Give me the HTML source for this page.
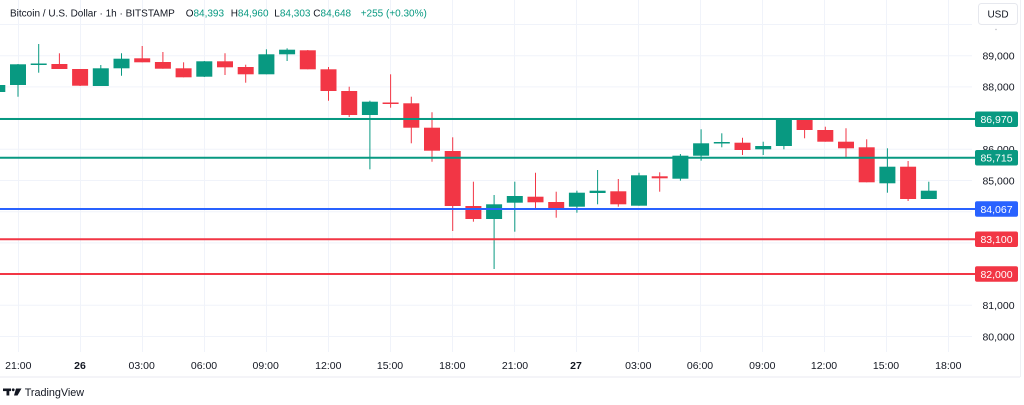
<!DOCTYPE html>
<html>
<head>
<meta charset="utf-8">
<style>
html,body{margin:0;padding:0;background:#fff;}
svg{display:block;}
text{font-family:"Liberation Sans",Arial,sans-serif;}
</style>
</head>
<body>
<svg width="1024" height="405" viewBox="0 0 1024 405" xmlns="http://www.w3.org/2000/svg">
<rect x="0" y="0" width="1024" height="405" fill="#ffffff"/>

<!-- horizontal grid -->
<g stroke="#f0f3fa" stroke-width="1">
<line x1="0" y1="24.5" x2="972" y2="24.5"/>
<line x1="0" y1="55.7" x2="972" y2="55.7"/>
<line x1="0" y1="86.9" x2="972" y2="86.9"/>
<line x1="0" y1="118.1" x2="972" y2="118.1"/>
<line x1="0" y1="149.3" x2="972" y2="149.3"/>
<line x1="0" y1="180.5" x2="972" y2="180.5"/>
<line x1="0" y1="211.7" x2="972" y2="211.7"/>
<line x1="0" y1="242.9" x2="972" y2="242.9"/>
<line x1="0" y1="274.1" x2="972" y2="274.1"/>
<line x1="0" y1="305.3" x2="972" y2="305.3"/>
<line x1="0" y1="336.5" x2="972" y2="336.5"/>
</g>
<!-- vertical grid -->
<g stroke="#f0f3fa" stroke-width="1">
<line x1="18.5" y1="0" x2="18.5" y2="352"/>
<line x1="80.5" y1="0" x2="80.5" y2="352"/>
<line x1="142.5" y1="0" x2="142.5" y2="352"/>
<line x1="204.5" y1="0" x2="204.5" y2="352"/>
<line x1="266.5" y1="0" x2="266.5" y2="352"/>
<line x1="328.5" y1="0" x2="328.5" y2="352"/>
<line x1="390.5" y1="0" x2="390.5" y2="352"/>
<line x1="452.5" y1="0" x2="452.5" y2="352"/>
<line x1="514.5" y1="0" x2="514.5" y2="352"/>
<line x1="576.5" y1="0" x2="576.5" y2="352"/>
<line x1="638.5" y1="0" x2="638.5" y2="352"/>
<line x1="700.5" y1="0" x2="700.5" y2="352"/>
<line x1="762.5" y1="0" x2="762.5" y2="352"/>
<line x1="824.5" y1="0" x2="824.5" y2="352"/>
<line x1="886.5" y1="0" x2="886.5" y2="352"/>
<line x1="948.5" y1="0" x2="948.5" y2="352"/>
</g>

<!-- borders -->
<line x1="0" y1="377" x2="1020" y2="377" stroke="#e8eaf0" stroke-width="1"/>
<line x1="1020.5" y1="0" x2="1020.5" y2="377" stroke="#eef0f4" stroke-width="1"/>

<!-- candles -->
<g>
<!-- i0 -->
<line x1="-2.7" y1="84" x2="-2.7" y2="93" stroke="#089981"/><rect x="-10.7" y="85" width="16" height="7" fill="#089981"/>
<!-- i1 -->
<line x1="18" y1="64" x2="18" y2="96.7" stroke="#089981"/><rect x="10" y="64.3" width="16" height="20.7" fill="#089981"/>
<!-- i2 -->
<line x1="38.7" y1="44" x2="38.7" y2="72.7" stroke="#089981"/><rect x="30.7" y="63.5" width="16" height="1.5" fill="#089981"/>
<!-- i3 -->
<line x1="59.4" y1="53.3" x2="59.4" y2="69" stroke="#F23645"/><rect x="51.4" y="64" width="16" height="5" fill="#F23645"/>
<!-- i4 -->
<line x1="80.1" y1="69" x2="80.1" y2="86" stroke="#F23645"/><rect x="72.1" y="69" width="16" height="16.7" fill="#F23645"/>
<!-- i5 -->
<line x1="100.8" y1="65" x2="100.8" y2="86" stroke="#089981"/><rect x="92.8" y="68.3" width="16" height="17.7" fill="#089981"/>
<!-- i6 -->
<line x1="121.5" y1="53.3" x2="121.5" y2="75.7" stroke="#089981"/><rect x="113.5" y="58.7" width="16" height="9.6" fill="#089981"/>
<!-- i7 -->
<line x1="142.2" y1="46" x2="142.2" y2="62.3" stroke="#F23645"/><rect x="134.2" y="58.3" width="16" height="4" fill="#F23645"/>
<!-- i8 -->
<line x1="162.9" y1="52" x2="162.9" y2="68.7" stroke="#F23645"/><rect x="154.9" y="62" width="16" height="6.7" fill="#F23645"/>
<!-- i9 -->
<line x1="183.6" y1="62.3" x2="183.6" y2="77.3" stroke="#F23645"/><rect x="175.6" y="68.3" width="16" height="9" fill="#F23645"/>
<!-- i10 -->
<line x1="204.3" y1="61" x2="204.3" y2="77" stroke="#089981"/><rect x="196.3" y="61.3" width="16" height="15.4" fill="#089981"/>
<!-- i11 -->
<line x1="225" y1="53.3" x2="225" y2="75" stroke="#F23645"/><rect x="217" y="61.3" width="16" height="6" fill="#F23645"/>
<!-- i12 -->
<line x1="245.7" y1="64.7" x2="245.7" y2="82.7" stroke="#F23645"/><rect x="237.7" y="67" width="16" height="7.3" fill="#F23645"/>
<!-- i13 -->
<line x1="266.4" y1="49.3" x2="266.4" y2="74.3" stroke="#089981"/><rect x="258.4" y="54.3" width="16" height="20" fill="#089981"/>
<!-- i14 -->
<line x1="287.1" y1="48.3" x2="287.1" y2="61" stroke="#089981"/><rect x="279.1" y="49.7" width="16" height="4.6" fill="#089981"/>
<!-- i15 -->
<line x1="307.8" y1="50" x2="307.8" y2="69.3" stroke="#F23645"/><rect x="299.8" y="50.3" width="16" height="19" fill="#F23645"/>
<!-- i16 -->
<line x1="328.5" y1="67" x2="328.5" y2="100.7" stroke="#F23645"/><rect x="320.5" y="69.3" width="16" height="21.7" fill="#F23645"/>
<!-- i17 -->
<line x1="349.2" y1="86.7" x2="349.2" y2="117" stroke="#F23645"/><rect x="341.2" y="91" width="16" height="24" fill="#F23645"/>
<!-- i18 -->
<line x1="369.9" y1="100.7" x2="369.9" y2="169.3" stroke="#089981"/><rect x="361.9" y="101.7" width="16" height="13.3" fill="#089981"/>
<!-- i19 -->
<line x1="390.6" y1="74.3" x2="390.6" y2="107.7" stroke="#F23645"/><rect x="382.6" y="102.5" width="16" height="1.5" fill="#F23645"/>
<!-- i20 -->
<line x1="411.3" y1="96.7" x2="411.3" y2="143.3" stroke="#F23645"/><rect x="403.3" y="103.3" width="16" height="24.4" fill="#F23645"/>
<!-- i21 -->
<line x1="432" y1="112.3" x2="432" y2="161.7" stroke="#F23645"/><rect x="424" y="127.7" width="16" height="23" fill="#F23645"/>
<!-- i22 -->
<line x1="452.7" y1="137.3" x2="452.7" y2="231" stroke="#F23645"/><rect x="444.7" y="151" width="16" height="55" fill="#F23645"/>
<!-- i23 -->
<line x1="473.4" y1="181.7" x2="473.4" y2="221.7" stroke="#F23645"/><rect x="465.4" y="206" width="16" height="13" fill="#F23645"/>
<!-- i24 -->
<line x1="494.1" y1="195" x2="494.1" y2="269" stroke="#089981"/><rect x="486.1" y="204.3" width="16" height="14.7" fill="#089981"/>
<!-- i25 -->
<line x1="514.8" y1="181.7" x2="514.8" y2="231.7" stroke="#089981"/><rect x="506.8" y="196" width="16" height="6.7" fill="#089981"/>
<!-- i26 -->
<line x1="535.5" y1="172.7" x2="535.5" y2="208.3" stroke="#F23645"/><rect x="527.5" y="196.7" width="16" height="5.6" fill="#F23645"/>
<!-- i27 -->
<line x1="556.2" y1="191.7" x2="556.2" y2="217.7" stroke="#F23645"/><rect x="548.2" y="202" width="16" height="7" fill="#F23645"/>
<!-- i28 -->
<line x1="576.9" y1="190.7" x2="576.9" y2="212.7" stroke="#089981"/><rect x="568.9" y="192.7" width="16" height="14" fill="#089981"/>
<!-- i29 -->
<line x1="597.6" y1="170" x2="597.6" y2="204.3" stroke="#089981"/><rect x="589.6" y="190.7" width="16" height="2.3" fill="#089981"/>
<!-- i30 -->
<line x1="618.3" y1="179" x2="618.3" y2="206.7" stroke="#F23645"/><rect x="610.3" y="191.3" width="16" height="13" fill="#F23645"/>
<!-- i31 -->
<line x1="639" y1="172.7" x2="639" y2="205.7" stroke="#089981"/><rect x="631" y="175.3" width="16" height="30.4" fill="#089981"/>
<!-- i32 -->
<line x1="659.7" y1="172.3" x2="659.7" y2="191.7" stroke="#F23645"/><rect x="651.7" y="176.3" width="16" height="2" fill="#F23645"/>
<!-- i33 -->
<line x1="680.4" y1="154" x2="680.4" y2="180.7" stroke="#089981"/><rect x="672.4" y="155.7" width="16" height="23" fill="#089981"/>
<!-- i34 -->
<line x1="701.1" y1="129.3" x2="701.1" y2="160.7" stroke="#089981"/><rect x="693.1" y="143.3" width="16" height="12.4" fill="#089981"/>
<!-- i35 -->
<line x1="721.8" y1="133.3" x2="721.8" y2="147.3" stroke="#089981"/><rect x="713.8" y="142" width="16" height="1.5" fill="#089981"/>
<!-- i36 -->
<line x1="742.5" y1="137.7" x2="742.5" y2="155" stroke="#F23645"/><rect x="734.5" y="142.7" width="16" height="7.3" fill="#F23645"/>
<!-- i37 -->
<line x1="763.2" y1="141.7" x2="763.2" y2="155" stroke="#089981"/><rect x="755.2" y="146" width="16" height="3.3" fill="#089981"/>
<!-- i38 -->
<line x1="783.9" y1="118" x2="783.9" y2="149.3" stroke="#089981"/><rect x="775.9" y="119.3" width="16" height="26.7" fill="#089981"/>
<!-- i39 -->
<line x1="804.6" y1="118" x2="804.6" y2="138.3" stroke="#F23645"/><rect x="796.6" y="119.3" width="16" height="10.7" fill="#F23645"/>
<!-- i40 -->
<line x1="825.3" y1="126.7" x2="825.3" y2="141.7" stroke="#F23645"/><rect x="817.3" y="130" width="16" height="11.7" fill="#F23645"/>
<!-- i41 -->
<line x1="846" y1="128.3" x2="846" y2="158.3" stroke="#F23645"/><rect x="838" y="141.7" width="16" height="6.6" fill="#F23645"/>
<!-- i42 -->
<line x1="866.7" y1="139.3" x2="866.7" y2="182.3" stroke="#F23645"/><rect x="858.7" y="147.3" width="16" height="35" fill="#F23645"/>
<!-- i43 -->
<line x1="887.4" y1="148.3" x2="887.4" y2="192.7" stroke="#089981"/><rect x="879.4" y="166.7" width="16" height="16.6" fill="#089981"/>
<!-- i44 -->
<line x1="908.1" y1="161" x2="908.1" y2="201" stroke="#F23645"/><rect x="900.1" y="166.7" width="16" height="32.3" fill="#F23645"/>
<!-- i45 -->
<line x1="928.8" y1="181.7" x2="928.8" y2="199" stroke="#089981"/><rect x="920.8" y="190.7" width="16" height="8.3" fill="#089981"/>
</g>

<!-- level lines -->
<line x1="0" y1="119" x2="976" y2="119" stroke="#089981" stroke-width="2"/>
<line x1="0" y1="157.7" x2="976" y2="157.7" stroke="#089981" stroke-width="2"/>
<line x1="0" y1="209" x2="976" y2="209" stroke="#2962FF" stroke-width="2"/>
<line x1="0" y1="239.3" x2="976" y2="239.3" stroke="#F23645" stroke-width="2"/>
<line x1="0" y1="274" x2="976" y2="274" stroke="#F23645" stroke-width="2"/>

<!-- price axis labels -->
<g font-size="10.5" fill="#131722" text-anchor="middle">
<text x="998.5" y="59.5">89,000</text>
<text x="998.5" y="90.7">88,000</text>
<text x="998.5" y="153">86,000</text>
<text x="998.5" y="184.3">85,000</text>
<text x="998.5" y="309">81,000</text>
<text x="998.5" y="340.3">80,000</text>
</g>

<!-- price boxes -->
<g font-size="10.5" fill="#ffffff" text-anchor="middle">
<rect x="975" y="111.5" width="43" height="15.5" rx="2" fill="#089981"/>
<text x="996.5" y="123">86,970</text>
<rect x="975" y="150" width="43" height="15.5" rx="2" fill="#089981"/>
<text x="996.5" y="161.5">85,715</text>
<rect x="975" y="201.3" width="43" height="15.5" rx="2" fill="#2962FF"/>
<text x="996.5" y="212.8">84,067</text>
<rect x="975" y="231.5" width="43" height="15.5" rx="2" fill="#F23645"/>
<text x="996.5" y="243">83,100</text>
<rect x="975" y="266.3" width="43" height="15.5" rx="2" fill="#F23645"/>
<text x="996.5" y="277.8">82,000</text>
</g>

<!-- USD box -->
<rect x="978.5" y="3.5" width="39" height="21" rx="3" fill="#ffffff" stroke="#e6e8ee"/>
<text x="998" y="17.5" font-size="10" fill="#131722" text-anchor="middle">USD</text>
<circle cx="996" cy="29.5" r="0.7" fill="#b2b5be"/>

<!-- time axis labels -->
<g font-size="10.5" fill="#131722" text-anchor="middle">
<text x="18.3" y="369">21:00</text>
<text x="80" y="369" font-weight="bold">26</text>
<text x="141.7" y="369">03:00</text>
<text x="204" y="369">06:00</text>
<text x="265.7" y="369">09:00</text>
<text x="328.3" y="369">12:00</text>
<text x="390" y="369">15:00</text>
<text x="452.3" y="369">18:00</text>
<text x="515" y="369">21:00</text>
<text x="576" y="369" font-weight="bold">27</text>
<text x="638.3" y="369">03:00</text>
<text x="700" y="369">06:00</text>
<text x="762.3" y="369">09:00</text>
<text x="824" y="369">12:00</text>
<text x="886" y="369">15:00</text>
<text x="948.3" y="369">18:00</text>
</g>

<!-- header legend -->
<g font-size="10" fill="#131722">
<text x="10" y="16.5">Bitcoin / U.S. Dollar · 1h · BITSTAMP</text>
<text x="185.7" y="16.5">O<tspan fill="#089981">84,393</tspan></text>
<text x="230.7" y="16.5">H<tspan fill="#089981">84,960</tspan></text>
<text x="274.3" y="16.5">L<tspan fill="#089981">84,303</tspan></text>
<text x="313.3" y="16.5">C<tspan fill="#089981">84,648</tspan></text>
<text x="360.7" y="16.5" fill="#089981">+255 (+0.30%)</text>
</g>

<!-- TradingView logo -->
<g fill="#131722">
<rect x="3" y="388.5" width="8" height="2.6"/>
<rect x="6.5" y="388.5" width="2.8" height="7"/>
<circle cx="13.2" cy="389.8" r="1.4"/>
<polygon points="16,388.5 21.5,388.5 17.5,395.5 14,395.5"/>
</g>
<text x="24.7" y="396" font-size="10.8" fill="#131722">TradingView</text>
</svg>
</body>
</html>
